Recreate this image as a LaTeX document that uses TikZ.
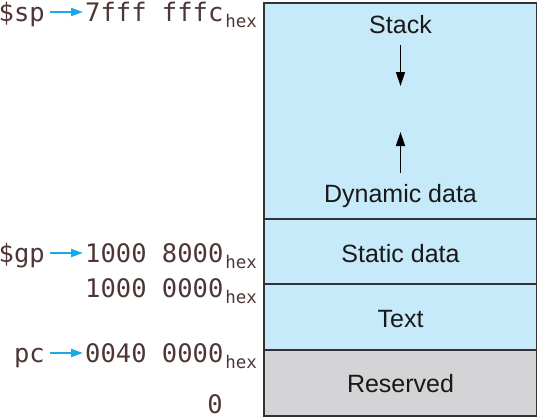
\documentclass[tikz,border=0pt]{standalone}
\usepackage{fontspec}
\setmainfont{Liberation Sans}
\newfontfamily\addrfont{DejaVu Sans Mono}
\usetikzlibrary{arrows.meta}
\definecolor{segblue}{RGB}{199,234,250}
\definecolor{seggray}{RGB}{212,212,214}
\definecolor{addrtxt}{RGB}{78,54,54}
\definecolor{ptrcyan}{RGB}{25,169,230}
\newcommand{\hexsub}{\hspace{2pt}\raisebox{-6pt}{\fontsize{17.5}{17.5}\selectfont hex}}
\begin{document}
\begin{tikzpicture}[x=1pt, y=-1pt,
  seg/.style={draw=black!80, line width=1.2pt},
  seglabel/.style={font=\fontsize{25}{30}\selectfont, text=black!90, inner sep=2pt, anchor=base},
  addr/.style={font=\addrfont\fontsize{25.5}{30}\selectfont, text=addrtxt, inner sep=0pt, anchor=base west},
  reg/.style={font=\addrfont\fontsize{25.5}{30}\selectfont, text=addrtxt, inner sep=0pt, anchor=base east},
  ptr/.style={draw=ptrcyan, line width=2pt, -{Triangle[length=12pt,width=8pt]}, shorten <=5pt, shorten >=2pt},
  growarrow/.style={line width=1.5pt, -{Triangle[length=14pt,width=9pt]}}]
\useasboundingbox (0,0) rectangle (538,418);
% memory segments
\filldraw[seg, fill=segblue] (264,3) rectangle (536.5,219);
\filldraw[seg, fill=segblue] (264,219) rectangle (536.5,284);
\filldraw[seg, fill=segblue] (264,284) rectangle (536.5,350);
\filldraw[seg, fill=seggray] (264,350) rectangle (536.5,416);
\node[seglabel] (stack) at (400.5,33) {Stack};
\node[seglabel] (dyn) at (400.5,202) {Dynamic data};
\node[seglabel] (static) at (400.5,262) {Static data};
\node[seglabel] (text) at (400.5,327) {Text};
\node[seglabel] (resv) at (400.5,392) {Reserved};
\coordinate (stackend) at (400.5,86);
\coordinate (heapend) at (400.5,132);
\draw[growarrow, shorten <=10pt] (stack.south) -- (stackend);
\draw[growarrow, shorten <=9pt] (dyn.north) -- (heapend);
% addresses
\node[addr] (spaddr) at (85,21) {7fff fffc\hexsub};
\node[addr] (gpaddr) at (85,262) {1000 8000\hexsub};
\node[addr] (txtaddr) at (85,297) {1000 0000\hexsub};
\node[addr] (pcaddr) at (85,362) {0040 0000\hexsub};
\node[reg, anchor=base east] (zero) at (223,413) {0};
% registers
\node[reg] (sp) at (45,21) {\$sp};
\node[reg] (gp) at (45,262) {\$gp};
\node[reg] (pc) at (45,362) {pc};
\draw[ptr] ([yshift=9pt]sp.base east) -- ([yshift=9pt]spaddr.base west);
\draw[ptr] ([yshift=9pt]gp.base east) -- ([yshift=9pt]gpaddr.base west);
\draw[ptr] ([yshift=9pt]pc.base east) -- ([yshift=9pt]pcaddr.base west);
\end{tikzpicture}
\end{document}
